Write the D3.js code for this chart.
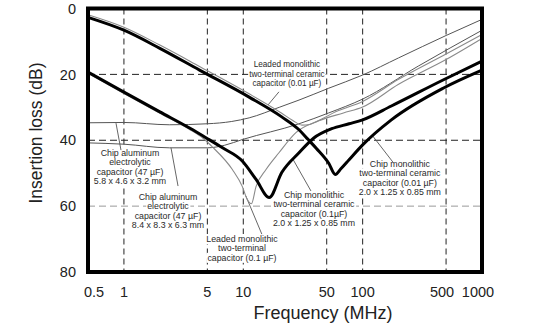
<!DOCTYPE html>
<html><head><meta charset="utf-8">
<script src="https://cdn.jsdelivr.net/npm/d3@7/dist/d3.min.js"></script>
<style>body{margin:0;background:#fff}svg{display:block}</style>
</head><body><svg id="c" width="535" height="334"></svg>
<script>
// ---- data (frequency MHz, insertion loss dB) ----
const xTicks = [0.5, 1, 5, 10, 50, 100, 500, 1000];
const xTickLabels = ["0.5", "1", "5", "10", "50", "100", "500", "1000"];
const xGrid = [1, 5, 10, 50, 100, 500];
const yTicks = [0, 20, 40, 60, 80];
const yGrid = [20, 40, 60];

const chipMono001 = [[0.5,2.7],[1,6.6],[2,12.1],[4.3,18.7],[11.2,26.9],[21,32.9],[29.3,36.8],[35,39.8],[41,42.5],[52,47],[59,50.4],[66,48.6],[77,45.9],[100,41.4],[174,33.8],[472,24.2],[1000,18.7]];
const chipMono01  = [[0.5,19.3],[1,25.4],[2,31.4],[3.55,36.3],[4.9,39.3],[6.7,42.3],[9.8,46.3],[12.8,51.9],[16.5,57.4],[21,49.8],[29.3,43.8],[39,39.3],[55,36.5],[77,35],[100,33.8],[174,29.6],[472,21.7],[1000,16]];
const leaded001   = [[0.5,1.9],[1,5.7],[2,11.1],[4.3,17.6],[11.2,25.9],[21,31.8],[26,34],[31,35.4],[36,35.2],[45,33.6],[60,31.3],[100,28.2],[200,21.5],[500,13.8],[1000,7.9]];
const leaded01    = [[0.5,19.7],[1,25.8],[2,31.8],[3.5,36.6],[4.6,39.4],[5.5,42],[8.1,48.9],[9.8,54],[10.8,58],[11.7,59.3],[12.8,54],[15.5,48.9],[19.9,43.8],[27.6,37.7],[43,34.1],[69,31.7],[100,29.9],[200,23],[500,15.5],[1000,9.1]];
const chipAl58    = [[0.5,34.7],[1,34.6],[2.4,35.3],[5,35],[8,34.3],[11.2,33.2],[20,30],[29.3,27.8],[52,24.2],[100,20.2],[200,15],[500,8.2],[1000,3.3]];
const chipAl84    = [[0.5,40.8],[1,41.2],[2.4,42.3],[5,42.3],[7,41.5],[9.8,39.8],[29.3,35],[52,31.7],[100,27.5],[292,17.5],[1000,6.6]];

// annotation texts
const labelTexts = {
  leaded001: ["Leaded monolithic","two-terminal ceramic","capacitor (0.01 µF)"],
  chipAl58: ["Chip aluminum","electrolytic","capacitor (47 µF)","5.8 x 4.6 x 3.2 mm"],
  chipAl84: ["Chip aluminum","electrolytic","capacitor (47 µF)","8.4 x 8.3 x 6.3 mm"],
  leaded01: ["Leaded monolithic","two-terminal","capacitor (0.1 µF)"],
  chipMono01: ["Chip monolithic","two-terminal ceramic","capacitor (0.1µF)","2.0 x 1.25 x 0.85 mm"],
  chipMono001: ["Chip monolithic","two-terminal ceramic","capacitor (0.01 µF)","2.0 x 1.25 x 0.85 mm"]
};

// ---- layout ----
const svg = d3.select("#c");
const W = 535, H = 334;
const mL = 88, mR = 482, mT = 8.5, mB = 272;
const x = d3.scaleLog().domain([0.5, 1000]).range([mL, mR]);
const y = d3.scaleLinear().domain([0, 80]).range([mT, mB]);
const FONT = "'Liberation Sans', Arial, Helvetica, sans-serif";

svg.append("rect").attr("width", W).attr("height", H).attr("fill", "#fff");

// grid
svg.append("g").selectAll("line").data(xGrid).join("line")
  .attr("x1", d => x(d)).attr("x2", d => x(d))
  .attr("y1", mT).attr("y2", mB)
  .attr("stroke", "#222").attr("stroke-width", 1).attr("stroke-dasharray", "6,4");
svg.append("g").selectAll("line").data(yGrid).join("line")
  .attr("x1", mL).attr("x2", mR)
  .attr("y1", d => y(d)).attr("y2", d => y(d))
  .attr("stroke", d => d === 60 ? "#999" : "#222").attr("stroke-width", 1).attr("stroke-dasharray", "7,4");

// annotations (position anchors in data units)
const annot = [
  {key:"leaded001",  f:23.2, db:17.8, size:8.2, leader:[[19.9,25.3],[16.1,29.3]]},
  {key:"chipAl58",   f:1.124, db:44.8, size:8.8, leader:[[0.945,43],[0.858,34.8]]},
  {key:"chipAl84",   f:2.34, db:58.1, size:8.8, leader:[[2.84,53.9],[2.48,42.3]]},
  {key:"leaded01",   f:9.75, db:70.9, size:8.8, leader:[[14.3,68.5],[10.5,56.9]]},
  {key:"chipMono01", f:39.1, db:57.5, size:8.8, leader:[[36.9,55.4],[26.1,45.8]]},
  {key:"chipMono001",f:205,  db:48.1, size:8.8, leader:[[179,46.6],[122,38.8]]}
];
const lh = 9.4;
const ag = svg.append("g");
annot.forEach(a => {
  const lines = labelTexts[a.key];
  const g = ag.append("g");
  lines.forEach((t, i) => {
    const tx = g.append("text").attr("x", x(a.f)).attr("y", y(a.db) + i * lh)
      .attr("text-anchor", "middle").attr("font-family", FONT).attr("font-size", a.size)
      .attr("fill", "#2a2a2a").text(t);
    const bb = tx.node().getBBox();
    g.insert("rect", "text").attr("x", bb.x - 1).attr("y", bb.y).attr("width", bb.width + 2)
      .attr("height", bb.height).attr("fill", "#fff");
  });
  svg.append("line")
    .attr("x1", x(a.leader[0][0])).attr("y1", y(a.leader[0][1]))
    .attr("x2", x(a.leader[1][0])).attr("y2", y(a.leader[1][1]))
    .attr("stroke", "#555").attr("stroke-width", 0.9);
});

// curves
const line = d3.line().x(d => x(d[0])).y(d => y(d[1])).curve(d3.curveMonotoneX);
const styles = {
  leaded001: {c:"#8a8a8a", w:1.1},
  leaded01: {c:"#8a8a8a", w:1.1},
  chipAl58: {c:"#555", w:1},
  chipAl84: {c:"#555", w:1},
  chipMono001: {c:"#000", w:3},
  chipMono01: {c:"#000", w:3}
};
const dataMap = {chipMono001, chipMono01, leaded001, leaded01, chipAl58, chipAl84};
["chipAl58","chipAl84","leaded001","leaded01","chipMono001","chipMono01"].forEach(k => {
  svg.append("path").datum(dataMap[k]).attr("d", line)
    .attr("fill", "none").attr("stroke", styles[k].c).attr("stroke-width", styles[k].w)
    .attr("stroke-linejoin", "round");
});

// frame
svg.append("rect").attr("x", mL).attr("y", mT).attr("width", mR - mL).attr("height", mB - mT)
  .attr("fill", "none").attr("stroke", "#000").attr("stroke-width", 4);

// axes tick labels
const xOff = {"0.5": 6, "500": -4, "1000": -4};
svg.append("g").selectAll("text").data(xTicks).join("text")
  .attr("x", (d, i) => x(d) + (xOff[xTickLabels[i]] || 0)).attr("y", 297)
  .attr("text-anchor", "middle").attr("font-family", FONT).attr("font-size", 14.5).attr("fill", "#222")
  .text((d, i) => xTickLabels[i]);
svg.append("g").selectAll("text").data(yTicks).join("text")
  .attr("x", 76).attr("y", d => y(d)).attr("dy", "0.36em")
  .attr("text-anchor", "end").attr("font-family", FONT).attr("font-size", 14.5).attr("fill", "#222")
  .text(d => d);

// axis titles
svg.append("text").attr("x", 323).attr("y", 319).attr("text-anchor", "middle")
  .attr("font-family", FONT).attr("font-size", 18).attr("fill", "#222").text("Frequency (MHz)");
svg.append("text").attr("transform", "translate(42,133) rotate(-90)").attr("text-anchor", "middle")
  .attr("font-family", FONT).attr("font-size", 17.5).attr("fill", "#222").text("Insertion loss (dB)");
</script>
</body></html>
